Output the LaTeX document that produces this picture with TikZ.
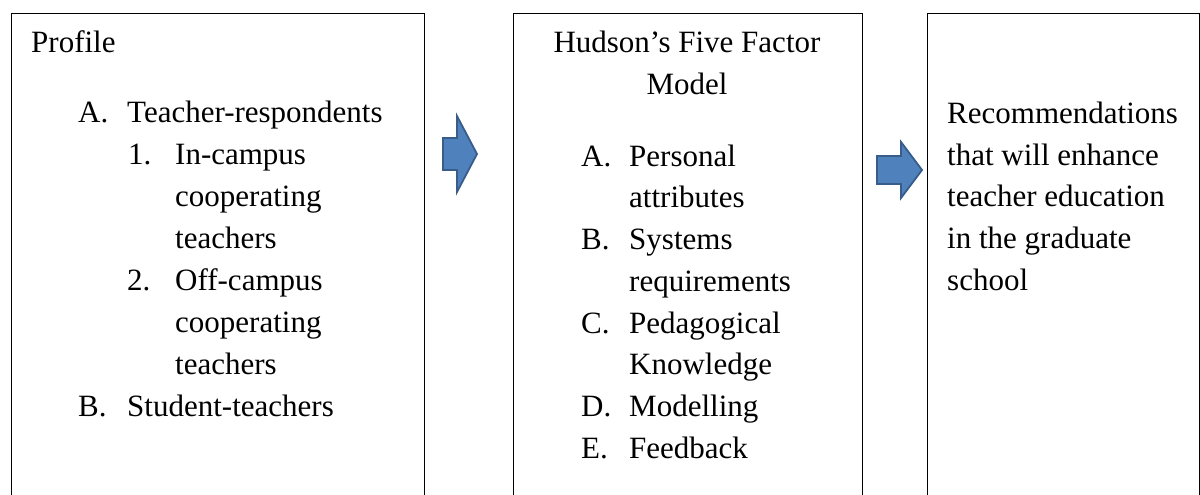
\documentclass[tikz,border=0pt]{standalone}
\usepackage{fontspec}
\setmainfont{Liberation Serif}
\begin{document}
\begin{tikzpicture}[x=1pt,y=-1pt,
  panel/.style={draw=black,line width=1.3pt,anchor=north west,inner sep=0pt},
  txt/.style={anchor=base west,inner sep=0pt,font=\fontsize{31}{41.7}\selectfont},
  ctxt/.style={anchor=base,inner sep=0pt,font=\fontsize{31}{41.7}\selectfont},
  blockarrow/.style={fill=arrowfill,draw=arrowline,line width=1.8pt,line join=miter}]
\definecolor{arrowfill}{HTML}{4F81BD}
\definecolor{arrowline}{HTML}{385D8A}
\useasboundingbox (0,0) rectangle (1200,495);
\clip (0,0) rectangle (1200,495);

% three panels, running past the lower edge
\node[panel,minimum width=413pt,minimum height=520pt] (profile) at (11,13) {};
\node[panel,minimum width=349pt,minimum height=520pt] (hudson) at (513,13) {};
\node[panel,minimum width=272pt,minimum height=520pt] (recs) at (927,13) {};

% block arrows between the panels
\draw[blockarrow] (443,138) -- (457,138) -- (457,116) -- (477,154) -- (457,192)
  -- (457,170) -- (443,170) -- cycle;
\draw[blockarrow] (877,156) -- (901,156) -- (901,142) -- (922,170) -- (901,198)
  -- (901,184) -- (877,184) -- cycle;

% profile panel
\node[txt] (p0) at (31,53) {Profile};
\node[txt] (pA) at (78,122) {A.};
\node[txt] (pAt) at (127,122) {Teacher-respondents};
\node[txt] (p1) at (128,164) {1.};
\node[txt] (p1t) at (175,164) {In-campus};
\node[txt] (p1b) at (175,206) {cooperating};
\node[txt] (p1c) at (175,248) {teachers};
\node[txt] (p2) at (127,290) {2.};
\node[txt] (p2t) at (175,290) {Off-campus};
\node[txt] (p2b) at (175,332) {cooperating};
\node[txt] (p2c) at (175,374) {teachers};
\node[txt] (pB) at (78,416) {B.};
\node[txt] (pBt) at (127,416) {Student-teachers};

% Hudson panel
\node[ctxt] (h0) at (687,53) {Hudson’s Five Factor};
\node[ctxt] (h1) at (687,95) {Model};
\node[txt] (hA) at (581,166.2) {A.};
\node[txt] (hAt) at (629,166.2) {Personal};
\node[txt] (hAb) at (629,207.9) {attributes};
\node[txt] (hB) at (581,249.6) {B.};
\node[txt] (hBt) at (629,249.6) {Systems};
\node[txt] (hBb) at (629,291.3) {requirements};
\node[txt] (hC) at (581,333) {C.};
\node[txt] (hCt) at (629,333) {Pedagogical};
\node[txt] (hCb) at (629,374.6) {Knowledge};
\node[txt] (hD) at (581,416.3) {D.};
\node[txt] (hDt) at (629,416.3) {Modelling};
\node[txt] (hE) at (581,458) {E.};
\node[txt] (hEt) at (629,458) {Feedback};

% recommendations panel
\node[txt] (r1) at (947,123) {Recommendations};
\node[txt] (r2) at (947,165) {that will enhance};
\node[txt] (r3) at (947,206.5) {teacher education};
\node[txt] (r4) at (947,248) {in the graduate};
\node[txt] (r5) at (947,290) {school};
\end{tikzpicture}
\end{document}
